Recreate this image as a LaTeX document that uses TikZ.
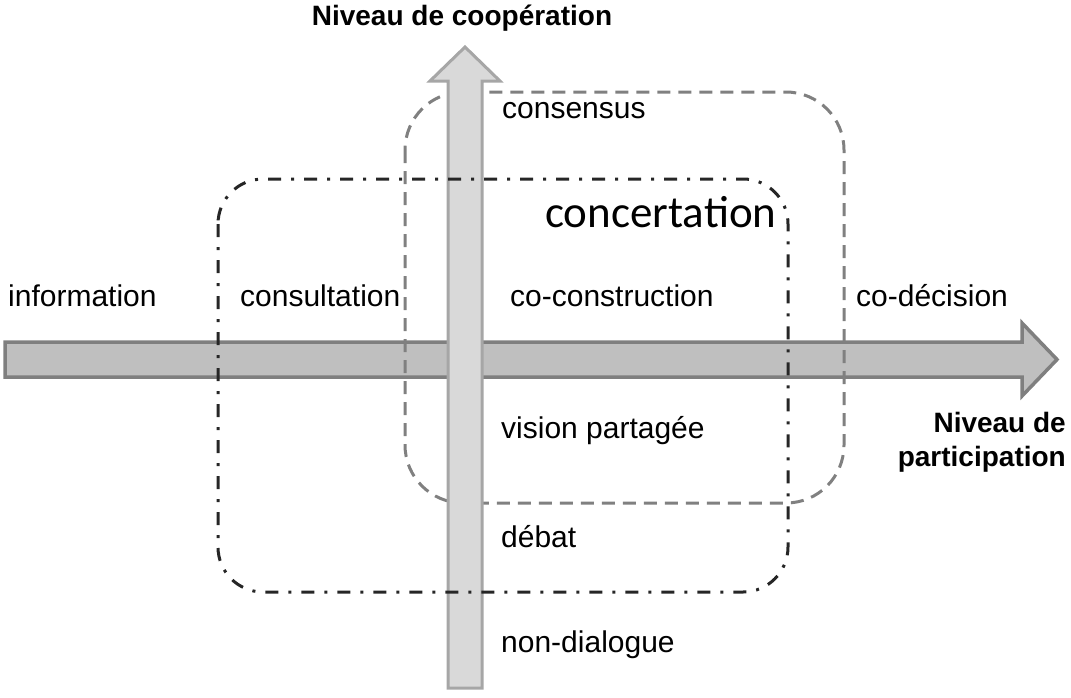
\documentclass[tikz,border=0pt]{standalone}
\usepackage{fontspec}
\setmainfont{Liberation Sans}
\newfontfamily\calib{Carlito}
\tikzset{
  lbl/.style={anchor=base west,inner sep=0pt,font=\fontsize{30}{35}\selectfont},
  ttl/.style={inner sep=0pt,font=\fontsize{28}{33}\selectfont\bfseries},
  harrow/.style={fill=hfill,draw=hborder,line width=3.5pt,line join=miter},
  varrow/.style={fill=vfill,draw=vborder,line width=3pt,line join=miter},
  grayframe/.style={draw=gframe,line width=3pt,dash pattern=on 13pt off 8pt,rounded corners=58pt},
  ddframe/.style={draw=dframe,line width=3pt,dash pattern=on 13pt off 10pt on 3pt off 10pt,rounded corners=45pt},
}
\definecolor{hfill}{HTML}{BFBFBF}
\definecolor{hborder}{HTML}{7F7F7F}
\definecolor{vfill}{HTML}{D9D9D9}
\definecolor{vborder}{HTML}{A6A6A6}
\definecolor{gframe}{HTML}{808080}
\definecolor{dframe}{HTML}{262626}
\begin{document}
\begin{tikzpicture}[x=1pt,y=-1pt]
\useasboundingbox (0,0) rectangle (1071,697);
% horizontal arrow
\draw[harrow] (5,342) -- (1022,342) -- (1022,323) -- (1057,359.5) -- (1022,396) -- (1022,377) -- (5,377) -- cycle;
% gray dashed frame
\draw[grayframe] (405,92) rectangle (844,503);
% vertical arrow
\draw[varrow] (448,688) -- (448,81) -- (430,81) -- (465,47) -- (500,81) -- (482,81) -- (482,688) -- cycle;
% dash-dot frame
\draw[ddframe] (218,179) rectangle (788,592);
% texts
\node[ttl,anchor=base] (t1) at (462,25) {Niveau de coopération};
\node[ttl,anchor=base east,align=right] (t2) at (1066,432) {Niveau de};
\node[ttl,anchor=base east,align=right] (t3) at (1066,466) {participation};
\node[lbl] (cs) at (502,118) {consensus};
\node[anchor=base west,inner sep=0pt,font=\calib\fontsize{45}{50}\selectfont] (cc) at (545,227) {concertation};
\node[lbl] (inf) at (8,306) {information};
\node[lbl] (cons) at (240,306) {consultation};
\node[lbl] (cocon) at (510,306) {co-construction};
\node[lbl] (codec) at (856,306) {co-décision};
\node[lbl] (vis) at (501,438) {vision partagée};
\node[lbl] (deb) at (501,547) {débat};
\node[lbl] (nond) at (501,652) {non-dialogue};
\end{tikzpicture}
\end{document}
